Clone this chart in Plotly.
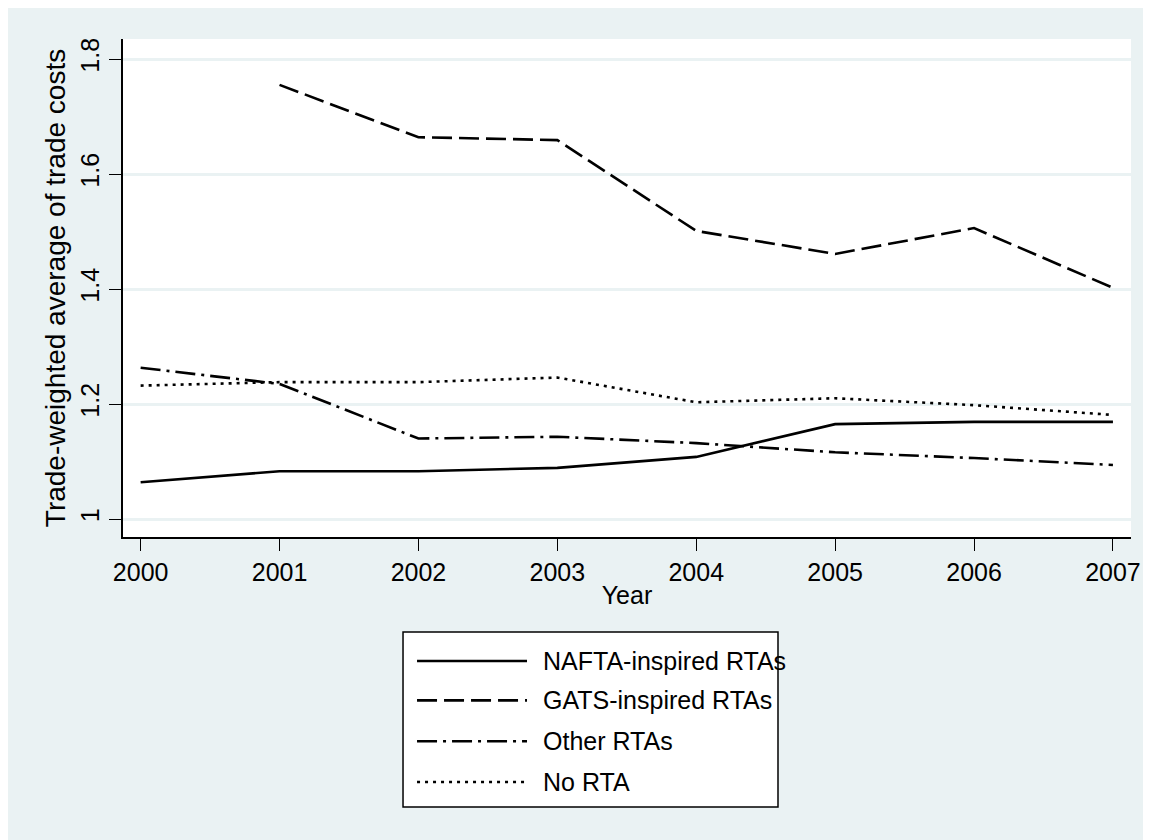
import plotly.graph_objects as go

years = [2000, 2001, 2002, 2003, 2004, 2005, 2006, 2007]
nafta = [1.064, 1.083, 1.083, 1.089, 1.108, 1.165, 1.169, 1.169]
gats = [None, 1.755, 1.664, 1.659, 1.501, 1.461, 1.506, 1.402]
other = [1.263, 1.235, 1.140, 1.143, 1.132, 1.116, 1.106, 1.094]
no_rta = [1.232, 1.238, 1.238, 1.246, 1.203, 1.210, 1.198, 1.181]

series_names = ["NAFTA-inspired RTAs", "GATS-inspired RTAs", "Other RTAs", "No RTA"]
series_values = [nafta, gats, other, no_rta]
dashes = ["solid", "20px,7px", "20px,6px,3px,6px", "3px,5px"]

y_ticks = [1, 1.2, 1.4, 1.6, 1.8]
y_ticklabels = ["1", "1.2", "1.4", "1.6", "1.8"]

BG = "#EAF2F3"
FONT = "Liberation Sans, Arial, sans-serif"

fig = go.Figure()
for name, vals, dash in zip(series_names, series_values, dashes):
    fig.add_trace(go.Scatter(
        x=years, y=vals, name=name, mode="lines",
        line=dict(color="black", width=2.6, dash=dash),
        connectgaps=False, showlegend=False,
    ))

# Manual legend (Stata style: long line samples)
box_x0, box_x1 = 0.2778, 0.6498
box_y0, box_y1 = -0.5422, -0.1908
fig.add_shape(type="rect", xref="paper", yref="paper",
              x0=box_x0, x1=box_x1, y0=box_y0, y1=box_y1,
              line=dict(color="black", width=1.5), fillcolor="white", layer="below")
row_y = [-0.249, -0.328, -0.410, -0.492]
for name, dash, ry in zip(series_names, dashes, row_y):
    fig.add_shape(type="line", xref="paper", yref="paper",
                  x0=0.2917, x1=0.4008, y0=ry, y1=ry,
                  line=dict(color="black", width=2.6, dash=dash))
    fig.add_annotation(xref="paper", yref="paper", x=0.4147, y=ry,
                       text=name, showarrow=False, xanchor="left", yanchor="middle",
                       font=dict(size=25, color="black", family=FONT))

fig.update_layout(
    width=1151, height=840,
    margin=dict(l=115, r=28, t=31, b=311, autoexpand=False),
    paper_bgcolor=BG, plot_bgcolor="white",
    font=dict(family=FONT, size=25, color="black"),
    showlegend=False,
)
fig.update_xaxes(
    range=[1999.873, 2007.13], tickmode="array", tickvals=years,
    ticktext=[str(y) for y in years],
    ticks="outside", ticklen=12, tickwidth=1.2, tickcolor="black",
    showline=True, linecolor="black", linewidth=1.5,
    showgrid=False, zeroline=False,
    title=dict(text="Year", standoff=2, font=dict(size=25)),
    tickfont=dict(size=25),
)
fig.update_yaxes(
    range=[0.9687, 1.8348], tickmode="array", tickvals=y_ticks, ticktext=y_ticklabels,
    tickangle=-90,
    ticks="outside", ticklen=12, tickwidth=1.2, tickcolor="black",
    showline=True, linecolor="black", linewidth=1.5,
    showgrid=True, gridcolor=BG, gridwidth=2.5, zeroline=False,
    title=dict(text="Trade-weighted average of trade costs", standoff=2, font=dict(size=28)),
    tickfont=dict(size=25),
)

fig.write_html("out.html")
